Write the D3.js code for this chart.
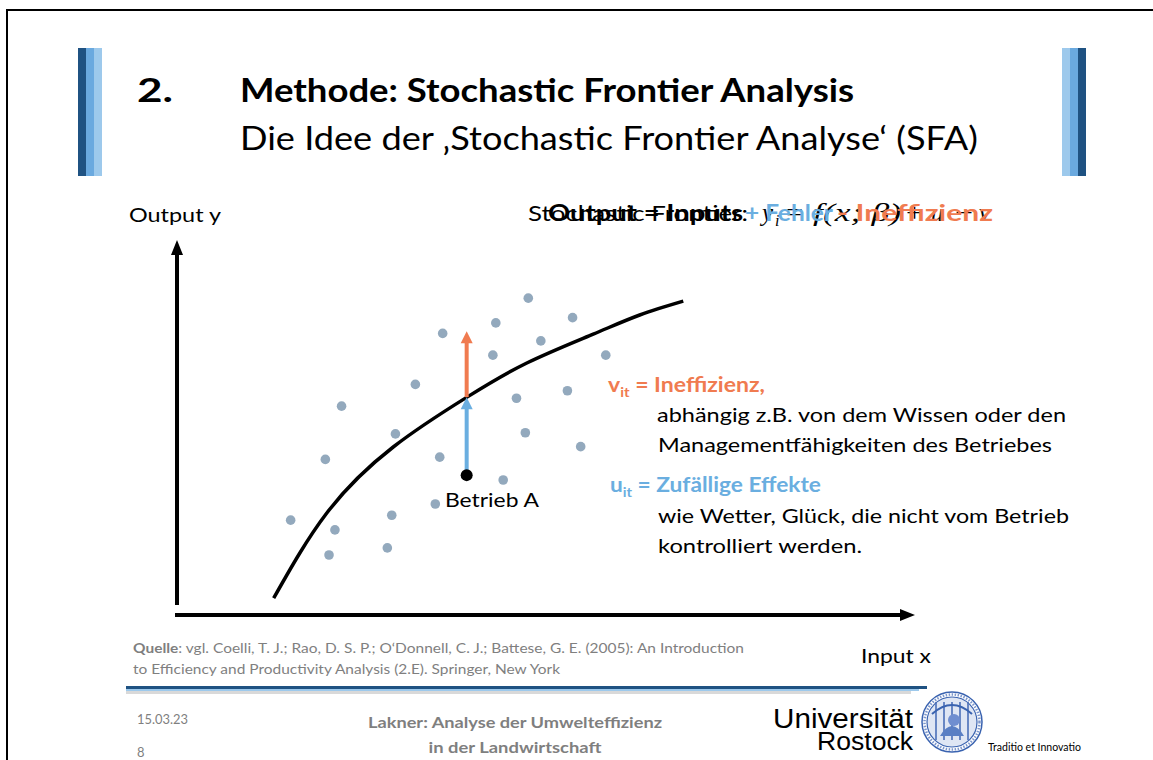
<!DOCTYPE html>
<html>
<head>
<meta charset="utf-8">
<script src="https://cdn.jsdelivr.net/npm/d3@7"></script>
<style>
  html, body { margin: 0; padding: 0; background: #fff; }
  svg { display: block; }
  text { font-family: Lato, "Open Sans", sans-serif; }
</style>
</head>
<body>
<div id="chart"></div>
<script>
// frontier curve (input x, output y, both 0..100)
const frontierX = [13.1, 20.3, 29.3, 39.3, 47.4, 56.4, 62.7, 68.6];
const frontierY = [4.5, 27.2, 44.8, 58.1, 67.2, 74.9, 80.0, 83.7];

// observed farms (grey dots)
const farmX = [47.6, 53.6, 36.0, 43.2, 49.3, 42.8, 58.1, 32.3, 22.3, 46.0, 52.9, 29.6,
               47.2, 54.7, 20.1, 35.6, 44.2, 35.0, 15.4, 29.1, 21.4, 20.6, 28.5];
const farmY = [84.5, 79.3, 75.1, 77.9, 73.1, 69.3, 69.3, 61.5, 55.7, 57.8, 59.8, 48.3,
               48.6, 44.9, 41.5, 42.1, 36.0, 29.6, 25.3, 26.6, 22.7, 16.0, 17.9];

// Betrieb A and its two error components
const betriebA = { x: 39.25, y: 37.3 };
const frontierAtA = 58.1;
const ineffTop = 75.7;

const axisLabels = ["Output y", "Input x"];

const W = 1153, H = 760;
const col = {
    dark: "#1f5282", mid: "#6aa9df", light: "#9dc9ec",
    dot: "#93a9bd", blue: "#6aaee0", orange: "#f07b50", grey: "#7f7f7f"
};

const svg = d3.select("#chart").append("svg")
    .attr("width", W).attr("height", H);

// frame of the slide picture
svg.append("path")
    .attr("d", "M7,760 L7,10 L1153,10")
    .attr("fill", "none").attr("stroke", "#000").attr("stroke-width", 2);

function txt(x, y, s, o) {
    o = o || {};
    const t = svg.append("text")
        .attr("x", x).attr("y", y)
        .attr("font-size", o.size || 20)
        .attr("font-weight", o.bold ? "bold" : "normal")
        .attr("fill", o.fill || "#000")
        .attr("text-anchor", o.anchor || "start")
        .text(s);
    if (o.family) t.style("font-family", o.family);
    if (o.italic) t.attr("font-style", "italic");
    if (o.len) t.attr("textLength", o.len).attr("lengthAdjust", "spacingAndGlyphs");
    return t;
}

// HEADER bars
[[78, col.dark], [86, col.mid], [94, col.light],
 [1062, col.light], [1070, col.mid], [1078, col.dark]].forEach(function (b) {
    svg.append("rect").attr("x", b[0]).attr("y", 48)
        .attr("width", 8).attr("height", 128).attr("fill", b[1]);
});

txt(137, 102, "2.", { size: 33, bold: true, len: 36 });
txt(240, 102, "Methode: Stochastic Frontier Analysis", { size: 33, bold: true, len: 614 });
txt(240, 150, "Die Idee der \u201aStochastic Frontier Analyse\u2018 (SFA)", { size: 32, len: 738 });

// PLOT
const x = d3.scaleLinear().domain([0, 100]).range([177, 915]);
const y = d3.scaleLinear().domain([0, 100]).range([615, 240]);
const g = svg.append("g");

// axes with arrow heads
g.append("line")
    .attr("x1", x(0)).attr("y1", y(0) - 10).attr("x2", x(0)).attr("y2", y(100) + 12)
    .attr("stroke", "#000").attr("stroke-width", 4);
g.append("line")
    .attr("x1", x(0) - 2).attr("y1", y(0)).attr("x2", x(100) - 12).attr("y2", y(0))
    .attr("stroke", "#000").attr("stroke-width", 4);
g.append("path")
    .attr("d", `M${x(0)},${y(100)} L${x(0) - 6},${y(100) + 15} L${x(0) + 6},${y(100) + 15} Z`);
g.append("path")
    .attr("d", `M${x(100)},${y(0)} L${x(100) - 15},${y(0) - 6} L${x(100) - 15},${y(0) + 6} Z`);

txt(129, 222, axisLabels[0], { size: 19, len: 92 });
txt(861, 663, axisLabels[1], { size: 19, len: 70 });

// farms
g.selectAll(".farm")
    .data(d3.range(farmX.length))
    .enter().append("circle")
    .attr("class", "farm")
    .attr("cx", i => x(farmX[i]))
    .attr("cy", i => y(farmY[i]))
    .attr("r", 4.8)
    .attr("fill", col.dot);

// frontier
const line = d3.line().x(d => x(d[0])).y(d => y(d[1])).curve(d3.curveNatural);
g.append("path")
    .datum(d3.zip(frontierX, frontierY))
    .attr("d", line)
    .attr("fill", "none").attr("stroke", "#000").attr("stroke-width", 3.5);

// u arrow (blue) and v arrow (orange)
function arrow(from, to, color) {
    const ax = x(betriebA.x);
    g.append("line")
        .attr("x1", ax).attr("y1", y(from)).attr("x2", ax).attr("y2", y(to) + 10)
        .attr("stroke", color).attr("stroke-width", 4);
    g.append("path")
        .attr("d", `M${ax},${y(to)} L${ax - 6},${y(to) + 12} L${ax + 6},${y(to) + 12} Z`)
        .attr("fill", color);
}
arrow(betriebA.y, frontierAtA, col.blue);
arrow(frontierAtA, ineffTop, col.orange);

g.append("circle")
    .attr("cx", x(betriebA.x)).attr("cy", y(betriebA.y)).attr("r", 6).attr("fill", "#000");
txt(445, 507, "Betrieb A", { size: 20, len: 94 });

// FORMULA (two overlapping text layers as on the slide)
const serif = "'Liberation Serif', 'DejaVu Serif', serif";
txt(528, 221, "Stochastic Frontier:", { size: 22, len: 220 });
txt(762, 221, "y", { size: 25, italic: true, family: serif });
txt(775, 226, "i", { size: 16, italic: true, family: serif });
txt(786, 221, "=", { size: 25, family: serif, len: 17 });
txt(813, 221, "f(x; \u03b2)", { size: 25, italic: true, family: serif, len: 88 });
txt(906, 221, "+", { size: 25, family: serif, len: 17 });
txt(931, 221, "u", { size: 25, italic: true, family: serif });
txt(955, 221, "\u2212", { size: 25, family: serif, len: 18 });
txt(979, 221, "v", { size: 25, italic: true, family: serif });

txt(548, 221, "Output = Inputs", { size: 22, bold: true, len: 195 });
txt(745, 221, "+ Fehler", { size: 22, bold: true, fill: col.blue, len: 88 });
txt(837, 221, "- Ineffizienz", { size: 22, bold: true, fill: col.orange, len: 156 });

// EXPLANATION
function subLabel(x0, yb, main, sub, rest, color, len) {
    const t = txt(x0, yb, "", { size: 20, bold: true, fill: color, len: len });
    t.append("tspan").text(main);
    t.append("tspan").attr("font-size", 13).attr("dy", 5).text(sub);
    t.append("tspan").attr("dy", -5).text(rest);
}
subLabel(608, 392, "v", "it", " = Ineffizienz,", col.orange, 157);
txt(657, 422, "abh\u00e4ngig z.B. von dem Wissen oder den", { size: 20, len: 409 });
txt(658, 452, "Managementf\u00e4higkeiten des Betriebes", { size: 20, len: 394 });
subLabel(610, 492, "u", "it", " = Zuf\u00e4llige Effekte", col.blue, 211);
txt(658, 523, "wie Wetter, Gl\u00fcck, die nicht vom Betrieb", { size: 20, len: 411 });
txt(658, 553, "kontrolliert werden.", { size: 20, len: 204 });

// FOOTER
const q = txt(133, 653, "", { size: 14, fill: col.grey, len: 611 });
q.append("tspan").attr("font-weight", "bold").text("Quelle");
q.append("tspan").text(": vgl. Coelli, T. J.; Rao, D. S. P.; O\u2018Donnell, C. J.; Battese, G. E. (2005): An Introduction");
txt(133, 674, "to Efficiency and Productivity Analysis (2.E). Springer, New York", { size: 14, fill: col.grey, len: 427 });

[[687.5, 3, 927, col.dark], [690, 2, 919, col.light], [692.5, 3, 911, "#d9d9d9"]].forEach(function (l) {
    svg.append("line").attr("x1", 126).attr("x2", l[2]).attr("y1", l[0]).attr("y2", l[0])
        .attr("stroke", l[3]).attr("stroke-width", l[1]);
});

txt(137, 724, "15.03.23", { size: 13, fill: col.grey, len: 51 });
txt(137, 757, "8", { size: 13, fill: col.grey });
txt(515, 728, "Lakner: Analyse der Umwelteffizienz", { size: 16, bold: true, fill: col.grey, anchor: "middle", len: 294 });
txt(515, 753, "in der Landwirtschaft", { size: 16, bold: true, fill: col.grey, anchor: "middle", len: 173 });

const sans = "'Liberation Sans', Arial, sans-serif";
txt(773, 728, "Universit\u00e4t", { size: 27, family: sans, len: 140 });
txt(913, 750, "Rostock", { size: 25, family: sans, anchor: "end", len: 96 });

// seal
const seal = svg.append("g").attr("transform", "translate(952,722)");
seal.append("circle").attr("r", 30).attr("fill", "#fff").attr("stroke", "#3a63b0").attr("stroke-width", 1.5);
seal.append("circle").attr("r", 25).attr("fill", "#dfe6f4").attr("stroke", "#3a63b0").attr("stroke-width", 1.2);
seal.append("circle").attr("r", 27.5).attr("fill", "none").attr("stroke", "#7d97cc").attr("stroke-width", 2.5)
    .attr("stroke-dasharray", "1.5 1.5");
[-16, -8, 0, 8, 16].forEach(function (dx) {
    seal.append("line").attr("x1", dx).attr("x2", dx).attr("y1", -20).attr("y2", 18)
        .attr("stroke", "#4a6fb8").attr("stroke-width", 1.6);
});
seal.append("path").attr("d", "M-20,-8 Q0,-26 20,-8").attr("fill", "none").attr("stroke", "#3a63b0").attr("stroke-width", 2);
seal.append("path").attr("d", "M-12,14 Q0,-6 12,14 Z").attr("fill", "#5a7fc4");
seal.append("circle").attr("cx", 2).attr("cy", -2).attr("r", 6).attr("fill", "#6f8ed0");

txt(988, 751, "Traditio et Innovatio", { size: 12, len: 93 });
</script>
</body>
</html>
